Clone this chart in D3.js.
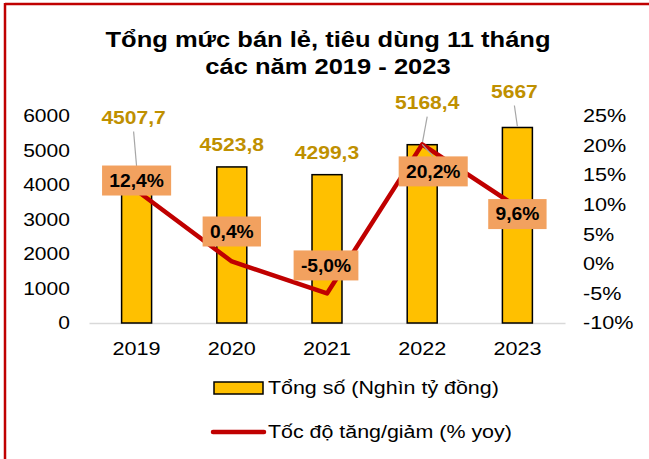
<!DOCTYPE html>
<html>
<head>
<meta charset="utf-8">
<script src="https://cdn.jsdelivr.net/npm/d3@7"></script>
<style>
  body { margin: 0; background: #fff; }
  text { font-family: "Liberation Sans", Arial, sans-serif; }
</style>
</head>
<body>
<div id="chart"></div>
<script>
// data
const years = ["2019", "2020", "2021", "2022", "2023"];
const totals = [4507.7, 4523.8, 4299.3, 5168.4, 5667];
const growth = [12.4, 0.4, -5.0, 20.2, 9.6];
const leftTicks = [0, 1000, 2000, 3000, 4000, 5000, 6000];
const rightTicks = [-10, -5, 0, 5, 10, 15, 20, 25];

// hand-placed label offsets (like the Excel original)
const valueLabelShift = [[-3, -50], [0, -22], [0, -22], [5, -42], [-3, -36]];
const valueLeader = [true, false, false, true, true];
const pctLabelShift = [[0, -10], [0, -30], [-1, -28], [11, 27], [0, 7]];

const W = 649, H = 459;
const plot = { left: 89, right: 565, top: 116, bottom: 323 };
const fmt = v => String(v).replace(".", ",");

// the original's text is a little wider than Liberation Sans, widen around the anchor
function stretch(sel, sx) {
  sel.each(function () {
    const ax = +(this.getAttribute("x") || 0);
    d3.select(this).attr("transform", "translate(" + ax * (1 - sx) + ",0) scale(" + sx + ",1)");
  });
}

const svg = d3.select("#chart").append("svg")
  .attr("width", W)
  .attr("height", H);

// red frame (top + left only visible)
svg.append("line").attr("x1", 5).attr("x2", W).attr("y1", 4).attr("y2", 4)
  .attr("stroke", "#c00000").attr("stroke-width", 2.5);
svg.append("line").attr("x1", 5).attr("x2", 5).attr("y1", 3).attr("y2", H)
  .attr("stroke", "#c00000").attr("stroke-width", 2.5);

// title
const title = svg.append("text")
  .attr("x", 328)
  .attr("text-anchor", "middle")
  .attr("font-size", 22)
  .attr("font-weight", "bold")
  .attr("fill", "#000");
title.append("tspan").attr("x", 328).attr("y", 47).text("Tổng mức bán lẻ, tiêu dùng 11 tháng");
title.append("tspan").attr("x", 328).attr("y", 74).text("các năm 2019 - 2023");
stretch(title, 1.16);

const x = d3.scaleBand()
  .domain(years)
  .range([plot.left, plot.right])
  .paddingInner(0.685)
  .paddingOuter(0.3425);

const yL = d3.scaleLinear().domain([0, 6000]).range([plot.bottom, plot.top]);
const yR = d3.scaleLinear().domain([-10, 25]).range([plot.bottom, plot.top]);

// left axis
const axL = svg.append("g")
  .attr("transform", "translate(" + (plot.left - 19) + ",0)")
  .call(d3.axisLeft(yL).tickValues(leftTicks).tickSize(0).tickPadding(0).tickFormat(d3.format("d")));
axL.select(".domain").remove();
axL.selectAll("text").attr("font-size", 18).attr("fill", "#000")
  .attr("font-family", "Liberation Sans, Arial, sans-serif");
stretch(axL.selectAll("text"), 1.17);

// right axis
const axR = svg.append("g")
  .attr("transform", "translate(" + (plot.right + 18) + ",0)")
  .call(d3.axisRight(yR).tickValues(rightTicks).tickSize(0).tickPadding(0)
    .tickFormat(d => d + "%"));
axR.select(".domain").remove();
axR.selectAll("text").attr("font-size", 18).attr("fill", "#000")
  .attr("font-family", "Liberation Sans, Arial, sans-serif");
stretch(axR.selectAll("text"), 1.2);

// bottom axis
const axB = svg.append("g")
  .attr("transform", "translate(0," + plot.bottom + ")")
  .call(d3.axisBottom(x).tickSize(0).tickPadding(19));
axB.select(".domain").attr("stroke", "#d9d9d9").attr("stroke-width", 1.5);
axB.selectAll("text").attr("font-size", 18).attr("fill", "#000")
  .attr("font-family", "Liberation Sans, Arial, sans-serif");
stretch(axB.selectAll("text"), 1.2);

// bars
svg.append("g").selectAll("rect")
  .data(totals)
  .join("rect")
  .attr("x", (d, i) => x(years[i]))
  .attr("y", d => yL(d))
  .attr("width", x.bandwidth())
  .attr("height", d => yL(0) - yL(d))
  .attr("fill", "#ffc000")
  .attr("stroke", "#000")
  .attr("stroke-width", 1.5);

// leader lines for bar labels
svg.append("g").selectAll("line")
  .data(totals.map((d, i) => ({ d, i })).filter(o => valueLeader[o.i]))
  .join("line")
  .attr("x1", o => x(years[o.i]) + x.bandwidth() / 2 + valueLabelShift[o.i][0])
  .attr("y1", o => yL(o.d) + valueLabelShift[o.i][1] + 14)
  .attr("x2", o => x(years[o.i]) + x.bandwidth() / 2)
  .attr("y2", o => yL(o.d) - 1)
  .attr("stroke", "#a6a6a6")
  .attr("stroke-width", 1.2);

// growth line
const cx = i => x(years[i]) + x.bandwidth() / 2;
const line = d3.line()
  .x((d, i) => cx(i))
  .y(d => yR(d));
svg.append("path")
  .datum(growth)
  .attr("d", line)
  .attr("fill", "none")
  .attr("stroke", "#c00000")
  .attr("stroke-width", 4.5)
  .attr("stroke-linejoin", "round");

// leader for 2022 growth label
svg.append("line")
  .attr("x1", cx(3)).attr("y1", yR(growth[3]))
  .attr("x2", cx(3) + pctLabelShift[3][0]).attr("y2", yR(growth[3]) + pctLabelShift[3][1] - 15)
  .attr("stroke", "#a6a6a6").attr("stroke-width", 1.2);

// bar value labels
const vl = svg.append("g").selectAll("text")
  .data(totals)
  .join("text")
  .attr("x", (d, i) => cx(i) + valueLabelShift[i][0])
  .attr("y", (d, i) => yL(d) + valueLabelShift[i][1])
  .attr("dy", "0.35em")
  .attr("text-anchor", "middle")
  .attr("font-size", 18)
  .attr("font-weight", "bold")
  .attr("fill", "#bf9000")
  .text(d => fmt(d));
stretch(vl, 1.17);

// growth labels in orange boxes
const pl = svg.append("g").selectAll("g")
  .data(growth)
  .join("g")
  .attr("transform", (d, i) =>
    "translate(" + (cx(i) + pctLabelShift[i][0]) + "," + (yR(d) + pctLabelShift[i][1]) + ")");
pl.append("text")
  .attr("dy", "0.36em")
  .attr("text-anchor", "middle")
  .attr("font-size", 17.5)
  .attr("font-weight", "bold")
  .attr("fill", "#000")
  .text(d => fmt(d.toFixed(1)) + "%");
pl.each(function () {
  const g = d3.select(this);
  const bb = g.select("text").node().getBBox();
  const w = bb.width * 1.1 + 14;
  g.insert("rect", "text")
    .attr("x", -w / 2)
    .attr("y", -15)
    .attr("width", w)
    .attr("height", 30)
    .attr("fill", "#f2a15f");
});
stretch(pl.selectAll("text"), 1.1);

// legend
const lg = svg.append("g");
lg.append("rect")
  .attr("x", 214).attr("y", 382).attr("width", 49).attr("height", 12)
  .attr("fill", "#ffc000").attr("stroke", "#000").attr("stroke-width", 1.5);
lg.append("text")
  .attr("x", 268).attr("y", 388).attr("dy", "0.35em")
  .attr("font-size", 18).attr("fill", "#000")
  .text("Tổng số (Nghìn tỷ đồng)");
lg.append("line")
  .attr("x1", 213).attr("x2", 264).attr("y1", 432).attr("y2", 432)
  .attr("stroke", "#c00000").attr("stroke-width", 4.5).attr("stroke-linecap", "round");
lg.append("text")
  .attr("x", 268).attr("y", 432).attr("dy", "0.35em")
  .attr("font-size", 18).attr("fill", "#000")
  .text("Tốc độ tăng/giảm (% yoy)");
stretch(lg.selectAll("text"), 1.19);
</script>
</body>
</html>
